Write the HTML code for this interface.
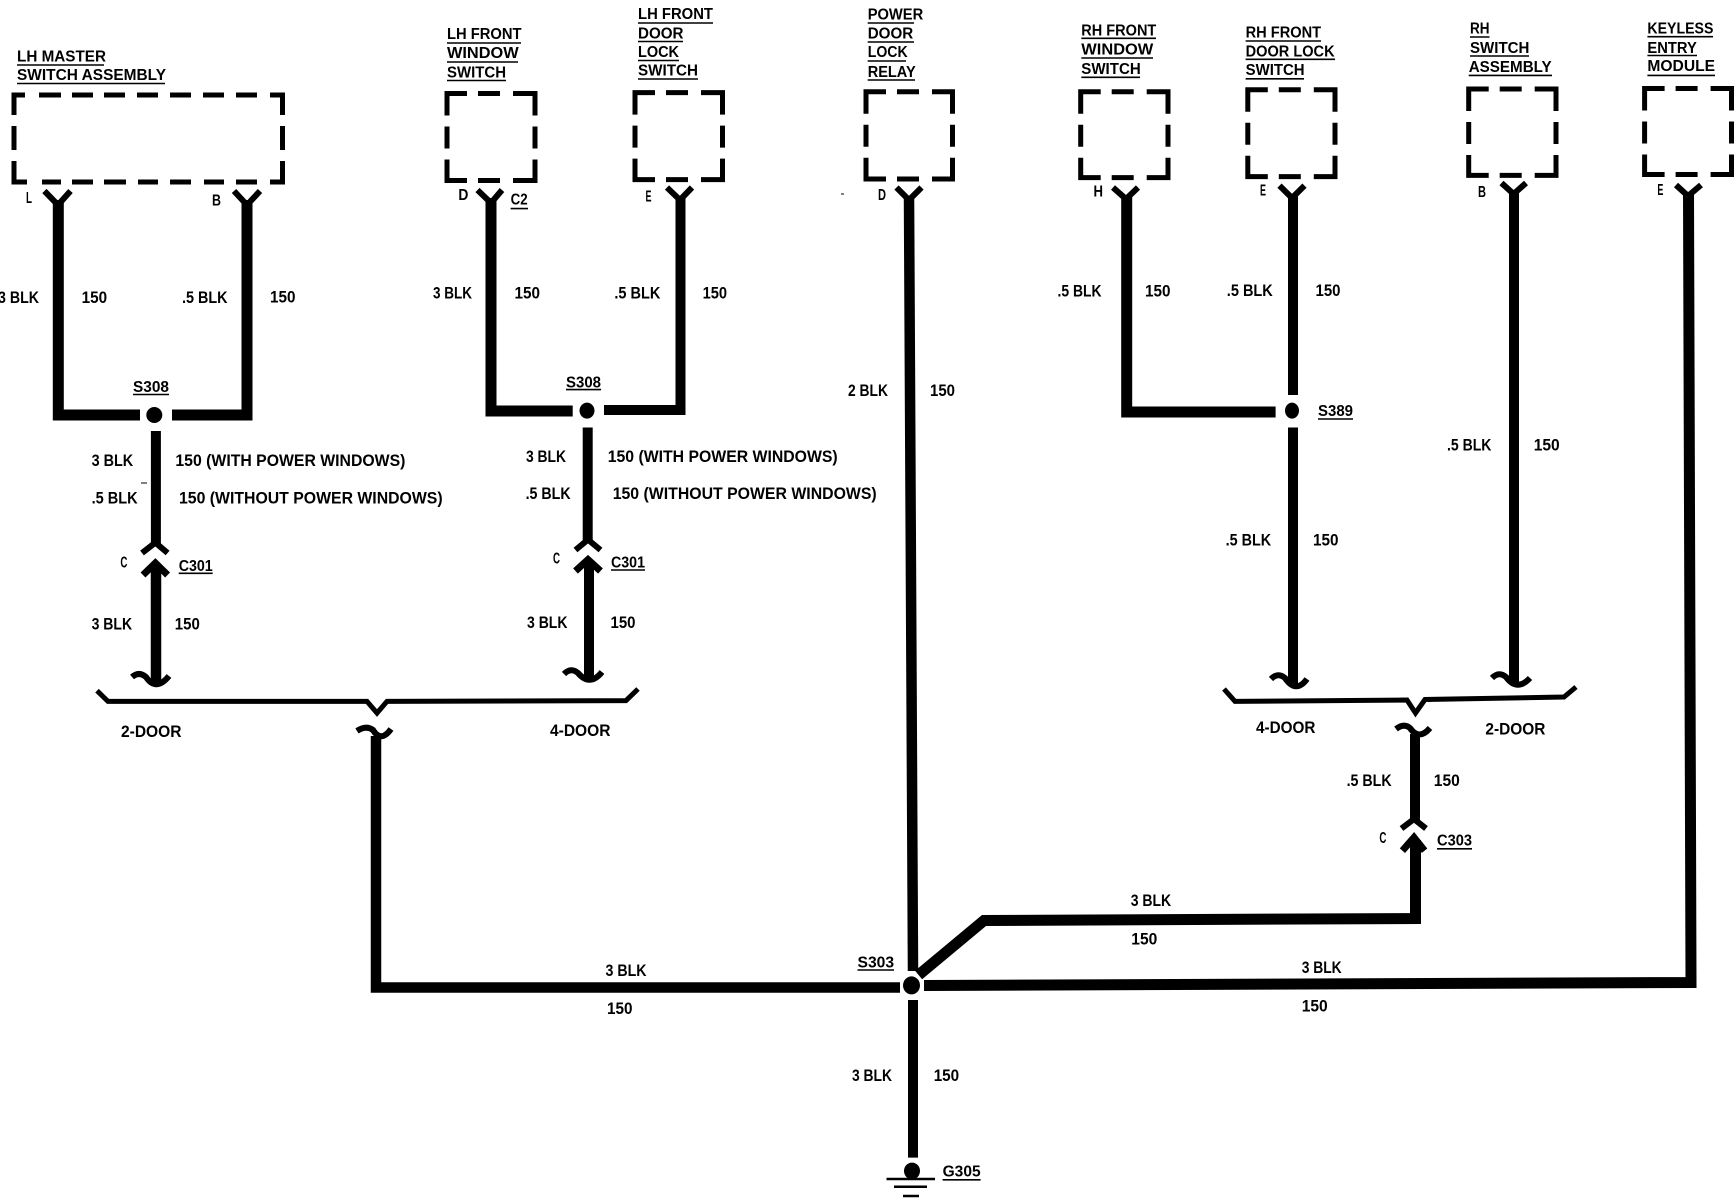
<!DOCTYPE html>
<html><head><meta charset="utf-8"><style>
html,body{margin:0;padding:0;background:#fff}
svg{display:block}
text{font-family:"Liberation Sans",sans-serif;font-weight:bold;fill:#000;font-size:17px}
.h{font-size:16px}
.s{font-size:16px}
</style></head><body>
<svg xmlns="http://www.w3.org/2000/svg" width="1736" height="1200" viewBox="0 0 1736 1200">
<rect width="1736" height="1200" fill="#fff"/>
<!-- dashed boxes -->
<g fill="none" stroke="#000" stroke-width="5" stroke-linejoin="miter">
<path d="M14,115V95H25M39,95H61M72,95H93M104,95H125M137,95H158M170,95H191M203,95H224M236,95H257M270,95H282.5V115M14,126V150M282.5,126V150M14,161V182H27M42,182H61M72,182H93M104,182H126M138,182H158M170,182H191M204,182H224M236,182H257M270,182H282.5V161"/>
<path d="M447,115.5V93.5H467M478,93.5H500M513,93.5H535V115.5M447,126.5V148.5M535,126.5V148.5M447,159.5V180.5H467M478,180.5H500M513,180.5H535V159.5"/>
<path d="M635,114.6V92.6H655M666,92.6H688M701,92.6H722.5V114.6M635,125.6V147.6M722.5,125.6V147.6M635,158.6V179.6H655M666,179.6H688M701,179.6H722.5V158.6"/>
<path d="M866,113.8V91.8H886M897,91.8H919M932,91.8H952.5V113.8M866,124.8V146.8M952.5,124.8V146.8M866,157.8V179H886M897,179H919M932,179H952.5V157.8"/>
<path d="M1080.7,113.8V91.8H1100.7M1111.7,91.8H1133.7M1146.7,91.8H1168V113.8M1080.7,124.8V146.8M1168,124.8V146.8M1080.7,157.8V177.6H1100.7M1111.7,177.6H1133.7M1146.7,177.6H1168V157.8"/>
<path d="M1247.8,111.7V89.7H1267.8M1278.8,89.7H1300.8M1313.8,89.7H1335V111.7M1247.8,122.7V144.7M1335,122.7V144.7M1247.8,155.7V176.6H1267.8M1278.8,176.6H1300.8M1313.8,176.6H1335V155.7"/>
<path d="M1468.7,111V89H1488.7M1499.7,89H1521.7M1534.7,89H1556V111M1468.7,122V144M1556,122V144M1468.7,155V175.4H1488.7M1499.7,175.4H1521.7M1534.7,175.4H1556V155"/>
<path d="M1644.6,110.5V88.5H1664.6M1675.6,88.5H1697.6M1710.6,88.5H1731.5V110.5M1644.6,121.5V143.5M1731.5,121.5V143.5M1644.6,154.5V174.5H1664.6M1675.6,174.5H1697.6M1710.6,174.5H1731.5V154.5"/>
</g>
<!-- wires -->
<g fill="none" stroke="#000" stroke-width="11" stroke-linejoin="miter">
<path d="M58.3,200V415H140"/>
<path d="M172,415H247V200"/>
<path d="M491,198V411H572.7"/>
<path d="M604,410H680.5V196" stroke-width="10"/>
<path d="M909,196L913,971" stroke-width="10.5"/>
<path d="M1126.7,195V412H1275.6"/>
<path d="M1293,194V395" stroke-width="10"/>
<path d="M1293,427.5V686" stroke-width="10"/>
<path d="M1514,190V684" stroke-width="10"/>
<path d="M1688.5,192L1691,982.5L924,985.5"/>
<path d="M155.9,431V545" stroke-width="10"/>
<path d="M156,565V686" stroke-width="10.5"/>
<path d="M587.7,427.5V541" stroke-width="10"/>
<path d="M589,562V681" stroke-width="10"/>
<path d="M376,736V987.5H900" stroke-width="10.5"/>
<path d="M913,1000V1157.6" stroke-width="10"/>
<path d="M918.6,975L984,920.5L1415.5,918.5V840"/>
<path d="M1415,734V822" stroke-width="10"/>
</g>
<!-- connector arms -->
<g fill="none" stroke="#000" stroke-width="6" stroke-linejoin="miter" stroke-linecap="butt">
<path d="M44.4,191L58,205L70.5,191"/>
<path d="M234,191L247,205L260,191"/>
<path d="M477.5,190L491,203L502,190"/>
<path d="M667,187.5L680,200L692,187.5"/>
<path d="M896.5,187.5L909,200L921.5,187.5"/>
<path d="M1113,187.5L1126,199L1138,187.5"/>
<path d="M1279.5,185.6L1292,198L1304.5,185.6"/>
<path d="M1501.5,183L1513.6,194L1526,183"/>
<path d="M1676,185L1688,196L1701,185"/>
<path d="M142,553L155.4,542.6L167.6,553"/>
<path d="M575.5,550L588,539.6L600.5,550"/>
<path d="M1401.5,828.5L1414,819L1426,828.5"/>
<path d="M143,575L155.4,563L167.6,575" stroke-width="7"/>
<path d="M575.5,571L588,559.6L600.5,571" stroke-width="7"/>
<path d="M1402.4,850.7L1414,837.5L1424.6,850.7" stroke-width="7"/>
<path d="M132,677Q139,671 146,677Q156,692 169,676"/>
<path d="M564,674Q571,667 578,673Q590,687 602,672"/>
<path d="M1271,679Q1278,672 1285,678Q1296,694 1307,679"/>
<path d="M1492,678Q1499,671 1506,677Q1517,692 1530,678"/>
<path d="M357,731Q366,725 373,730Q381,743 391,729"/>
<path d="M1396,729Q1404,723 1410,728Q1419,741 1430,728"/>
<path d="M97,690.7L108,701.4H367L377,713L387,701.4L626,700.6L638,689" stroke-width="5"/>
<path d="M1224,689L1235,701.4L1407,700L1415.5,713L1425,699.5L1564,697L1576,687" stroke-width="5"/>
</g>
<!-- dots -->
<g fill="#000">
<ellipse cx="154.3" cy="415" rx="8" ry="8"/>
<ellipse cx="587" cy="410.6" rx="7.5" ry="8"/>
<ellipse cx="1292" cy="410.6" rx="7" ry="8"/>
<ellipse cx="911.5" cy="985.4" rx="8.5" ry="9"/>
<ellipse cx="912" cy="1171" rx="8" ry="8.4"/>
</g>
<!-- ground & specks -->
<g stroke="#000" fill="none">
<path d="M886.5,1179H935M894,1186.7H927M903,1196H919" stroke-width="2.5"/>
<path d="M841,194H844M141,483H147" stroke-width="1"/>
</g>
<!-- underlines -->
<g stroke="#000" stroke-width="1.6" fill="none">
<path d="M17,65H104M17,83.5H165"/>
<path d="M447,43H521M447,62H518M447,80.5H506"/>
<path d="M638,23H713M638,41.5H683M638,60.5H679M638,79H698"/>
<path d="M510.6,208.6H528"/>
<path d="M133,394.5H169M566,389.6H601"/>
<path d="M178.7,573.3H212.7M611,570H645"/>
<path d="M867.7,23H914M867.7,42H914M867.7,61H906M867.7,80H915"/>
<path d="M1081.3,38.3H1156M1081.3,58H1153M1081.3,77.3H1140"/>
<path d="M1245.6,41H1321M1245.6,59.3H1335M1245.6,78.8H1304"/>
<path d="M1470,37H1489.5M1470,56H1529M1468.7,75.4H1552"/>
<path d="M1647.4,36.7H1713M1647.4,55.5H1697M1647.4,75.4H1715"/>
<path d="M1318,419H1353M857.5,970H894M1437,848.8H1472M942.6,1179.8H980.6"/>
</g>
<!-- labels -->
<g transform="translate(0,-0.8)">
<text class="h" x="17" y="62.4" textLength="89" lengthAdjust="spacingAndGlyphs">LH MASTER</text>
<text class="h" x="17" y="81" textLength="149" lengthAdjust="spacingAndGlyphs">SWITCH ASSEMBLY</text>
<text class="h" x="447" y="40" textLength="74.5" lengthAdjust="spacingAndGlyphs">LH FRONT</text>
<text class="h" x="447" y="59" textLength="71.6" lengthAdjust="spacingAndGlyphs">WINDOW</text>
<text class="h" x="447" y="78.5" textLength="59" lengthAdjust="spacingAndGlyphs">SWITCH</text>
<text class="h" x="638" y="20" textLength="75" lengthAdjust="spacingAndGlyphs">LH FRONT</text>
<text class="h" x="638" y="39.4" textLength="45.5" lengthAdjust="spacingAndGlyphs">DOOR</text>
<text class="h" x="638" y="58" textLength="41" lengthAdjust="spacingAndGlyphs">LOCK</text>
<text class="h" x="638" y="76.5" textLength="60" lengthAdjust="spacingAndGlyphs">SWITCH</text>
<text class="h" x="867.7" y="20.3" textLength="55.5" lengthAdjust="spacingAndGlyphs">POWER</text>
<text class="h" x="867.7" y="39.4" textLength="45.5" lengthAdjust="spacingAndGlyphs">DOOR</text>
<text class="h" x="867.7" y="58" textLength="40" lengthAdjust="spacingAndGlyphs">LOCK</text>
<text class="h" x="867.7" y="77.7" textLength="48" lengthAdjust="spacingAndGlyphs">RELAY</text>
<text class="h" x="1081.3" y="36.4" textLength="75" lengthAdjust="spacingAndGlyphs">RH FRONT</text>
<text class="h" x="1081.3" y="55.5" textLength="72" lengthAdjust="spacingAndGlyphs">WINDOW</text>
<text class="h" x="1081.3" y="74.6" textLength="59.4" lengthAdjust="spacingAndGlyphs">SWITCH</text>
<text class="h" x="1245.6" y="38.3" textLength="75.5" lengthAdjust="spacingAndGlyphs">RH FRONT</text>
<text class="h" x="1245.6" y="57.4" textLength="89" lengthAdjust="spacingAndGlyphs">DOOR LOCK</text>
<text class="h" x="1245.6" y="75.8" textLength="59" lengthAdjust="spacingAndGlyphs">SWITCH</text>
<text class="h" x="1470" y="34.4" textLength="19.5" lengthAdjust="spacingAndGlyphs">RH</text>
<text class="h" x="1470" y="53.6" textLength="59.4" lengthAdjust="spacingAndGlyphs">SWITCH</text>
<text class="h" x="1468.7" y="72.7" textLength="83" lengthAdjust="spacingAndGlyphs">ASSEMBLY</text>
<text class="h" x="1647.4" y="34.4" textLength="66" lengthAdjust="spacingAndGlyphs">KEYLESS</text>
<text class="h" x="1647.4" y="53.6" textLength="49.4" lengthAdjust="spacingAndGlyphs">ENTRY</text>
<text class="h" x="1647.4" y="72" textLength="67.7" lengthAdjust="spacingAndGlyphs">MODULE</text>
</g>
<g>
<text class="s" x="26" y="203" textLength="6" lengthAdjust="spacingAndGlyphs">L</text>
<text class="s" x="212" y="205.5" textLength="9" lengthAdjust="spacingAndGlyphs">B</text>
<text class="s" x="458.4" y="200" textLength="10" lengthAdjust="spacingAndGlyphs">D</text>
<text class="s" x="510.6" y="204.7" textLength="17" lengthAdjust="spacingAndGlyphs">C2</text>
<text class="s" x="645.5" y="201.7" textLength="6" lengthAdjust="spacingAndGlyphs">E</text>
<text class="s" x="878" y="199.8" textLength="8" lengthAdjust="spacingAndGlyphs">D</text>
<text class="s" x="1093.5" y="196.3" textLength="9.5" lengthAdjust="spacingAndGlyphs">H</text>
<text class="s" x="1260" y="195.6" textLength="6" lengthAdjust="spacingAndGlyphs">E</text>
<text class="s" x="1478" y="197" textLength="8" lengthAdjust="spacingAndGlyphs">B</text>
<text class="s" x="1657.4" y="195" textLength="6" lengthAdjust="spacingAndGlyphs">E</text>

<text x="-2" y="303" textLength="41" lengthAdjust="spacingAndGlyphs">3 BLK</text>
<text x="81.6" y="303" textLength="25.5" lengthAdjust="spacingAndGlyphs">150</text>
<text x="182" y="303" textLength="45.5" lengthAdjust="spacingAndGlyphs">.5 BLK</text>
<text x="270" y="302.3" textLength="25.5" lengthAdjust="spacingAndGlyphs">150</text>
<text x="433" y="298.5" textLength="39" lengthAdjust="spacingAndGlyphs">3 BLK</text>
<text x="514.5" y="298.5" textLength="25.5" lengthAdjust="spacingAndGlyphs">150</text>
<text x="614.4" y="298.5" textLength="46" lengthAdjust="spacingAndGlyphs">.5 BLK</text>
<text x="702.6" y="298.5" textLength="24.5" lengthAdjust="spacingAndGlyphs">150</text>
<text x="848" y="396" textLength="40" lengthAdjust="spacingAndGlyphs">2 BLK</text>
<text x="930" y="396" textLength="25" lengthAdjust="spacingAndGlyphs">150</text>
<text x="1057.5" y="296.6" textLength="44" lengthAdjust="spacingAndGlyphs">.5 BLK</text>
<text x="1145" y="296.6" textLength="25.5" lengthAdjust="spacingAndGlyphs">150</text>
<text x="1226.8" y="295.8" textLength="46" lengthAdjust="spacingAndGlyphs">.5 BLK</text>
<text x="1315.5" y="295.8" textLength="25" lengthAdjust="spacingAndGlyphs">150</text>

<text class="h" x="133" y="392" textLength="36" lengthAdjust="spacingAndGlyphs">S308</text>
<text class="h" x="566" y="387.7" textLength="35" lengthAdjust="spacingAndGlyphs">S308</text>
<text class="h" x="1318" y="416" textLength="35" lengthAdjust="spacingAndGlyphs">S389</text>

<text x="91.6" y="466" textLength="41.6" lengthAdjust="spacingAndGlyphs">3 BLK</text>
<text x="175.4" y="466" textLength="230" lengthAdjust="spacingAndGlyphs">150 (WITH POWER WINDOWS)</text>
<text x="91.6" y="503.6" textLength="46" lengthAdjust="spacingAndGlyphs">.5 BLK</text>
<text x="179" y="503.6" textLength="263.6" lengthAdjust="spacingAndGlyphs">150 (WITHOUT POWER WINDOWS)</text>
<text x="526" y="462" textLength="40" lengthAdjust="spacingAndGlyphs">3 BLK</text>
<text x="607.7" y="462" textLength="230" lengthAdjust="spacingAndGlyphs">150 (WITH POWER WINDOWS)</text>
<text x="525.6" y="499" textLength="45" lengthAdjust="spacingAndGlyphs">.5 BLK</text>
<text x="612.7" y="499" textLength="264" lengthAdjust="spacingAndGlyphs">150 (WITHOUT POWER WINDOWS)</text>

<text class="s" x="120.4" y="567.5" textLength="7" lengthAdjust="spacingAndGlyphs">C</text>
<text class="h" x="178.7" y="571" textLength="34" lengthAdjust="spacingAndGlyphs">C301</text>
<text class="s" x="553" y="563.7" textLength="7" lengthAdjust="spacingAndGlyphs">C</text>
<text class="h" x="611" y="567.5" textLength="34" lengthAdjust="spacingAndGlyphs">C301</text>

<text x="1447" y="450.4" textLength="44.4" lengthAdjust="spacingAndGlyphs">.5 BLK</text>
<text x="1533.7" y="450.4" textLength="26" lengthAdjust="spacingAndGlyphs">150</text>
<text x="1225.6" y="545.3" textLength="45.5" lengthAdjust="spacingAndGlyphs">.5 BLK</text>
<text x="1313" y="545.3" textLength="25.5" lengthAdjust="spacingAndGlyphs">150</text>

<text x="91.6" y="629.5" textLength="40.5" lengthAdjust="spacingAndGlyphs">3 BLK</text>
<text x="174.8" y="629.5" textLength="25" lengthAdjust="spacingAndGlyphs">150</text>
<text x="527" y="628" textLength="40.5" lengthAdjust="spacingAndGlyphs">3 BLK</text>
<text x="610.5" y="628" textLength="25" lengthAdjust="spacingAndGlyphs">150</text>
<text x="121" y="737" textLength="60.5" lengthAdjust="spacingAndGlyphs">2-DOOR</text>
<text x="550" y="735.9" textLength="60.5" lengthAdjust="spacingAndGlyphs">4-DOOR</text>
<text x="1256" y="732.8" textLength="59.4" lengthAdjust="spacingAndGlyphs">4-DOOR</text>
<text x="1485.4" y="734.3" textLength="60" lengthAdjust="spacingAndGlyphs">2-DOOR</text>
<text x="1346.6" y="786" textLength="45" lengthAdjust="spacingAndGlyphs">.5 BLK</text>
<text x="1433.8" y="786" textLength="26" lengthAdjust="spacingAndGlyphs">150</text>
<text class="s" x="1379.4" y="843" textLength="7" lengthAdjust="spacingAndGlyphs">C</text>
<text class="h" x="1437" y="845.7" textLength="35" lengthAdjust="spacingAndGlyphs">C303</text>
<text x="1130.7" y="906" textLength="40.5" lengthAdjust="spacingAndGlyphs">3 BLK</text>
<text x="1131.3" y="944.4" textLength="26" lengthAdjust="spacingAndGlyphs">150</text>
<text x="1301.7" y="973" textLength="40" lengthAdjust="spacingAndGlyphs">3 BLK</text>
<text x="1301.7" y="1011.4" textLength="26" lengthAdjust="spacingAndGlyphs">150</text>
<text x="605.5" y="976.2" textLength="41" lengthAdjust="spacingAndGlyphs">3 BLK</text>
<text x="607" y="1014" textLength="25.5" lengthAdjust="spacingAndGlyphs">150</text>
<text class="h" x="857.5" y="967.4" textLength="36.6" lengthAdjust="spacingAndGlyphs">S303</text>
<text x="852" y="1081" textLength="40" lengthAdjust="spacingAndGlyphs">3 BLK</text>
<text x="933.7" y="1081" textLength="25.5" lengthAdjust="spacingAndGlyphs">150</text>
<text class="h" x="942.6" y="1176.7" textLength="38" lengthAdjust="spacingAndGlyphs">G305</text>
</g>
</svg>
</body></html>
